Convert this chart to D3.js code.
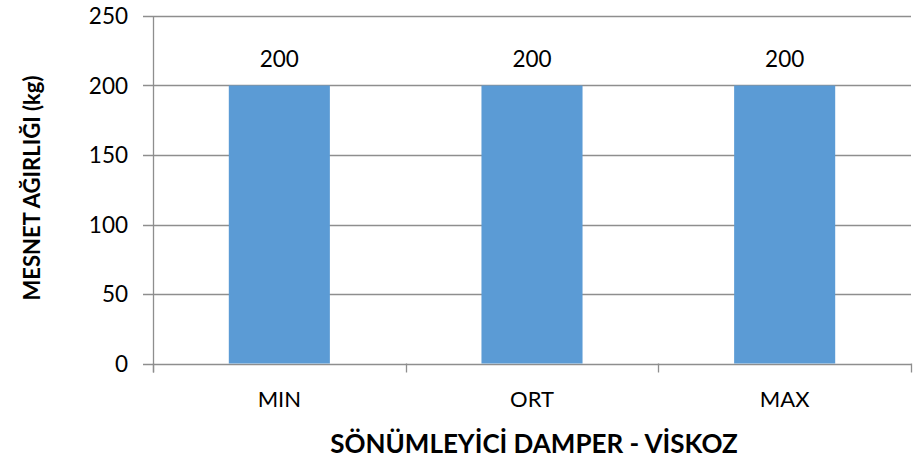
<!DOCTYPE html>
<html>
<head>
<meta charset="utf-8">
<script src="https://cdn.jsdelivr.net/npm/d3@7"></script>
<style>
  body { margin: 0; background: #fff; }
  text { font-family: Lato, "Open Sans", sans-serif; fill: #000; }
</style>
</head>
<body>
<div class="plot"></div>
<script>
// data
const categories = ["MIN", "ORT", "MAX"];
const values = [200, 200, 200];
const yTicks = [0, 50, 100, 150, 200, 250];
const xTitle = "SÖNÜMLEYİCİ DAMPER - VİSKOZ";
const yTitle = "MESNET AĞIRLIĞI (kg)";

const W = 922, H = 463;
const margin = {top: 16, right: 11, bottom: 99.5, left: 153};
const w = W - margin.left - margin.right;
const h = H - margin.top - margin.bottom;

const svg = d3.select(".plot")
    .append("svg")
        .attr("width", W)
        .attr("height", H)
    .append("g")
        .attr("transform", "translate(" + margin.left + ", " + margin.top + ")");

const x = d3.scaleBand().domain(categories).range([0, w]).padding(0);
const y = d3.scaleLinear().domain([0, 250]).range([h, 0]);
const barW = x.bandwidth() * 0.4;
const gridColor = "#8e8e8e";

// gridlines + left ticks
svg.selectAll(".grid")
    .data(yTicks)
    .enter()
    .append("line")
        .attr("x1", -10)
        .attr("x2", w)
        .attr("y1", d => Math.round(y(d)) + 0.5)
        .attr("y2", d => Math.round(y(d)) + 0.5)
        .attr("stroke", gridColor)
        .attr("stroke-width", 1.3);

// y axis line
svg.append("line")
    .attr("x1", 0.5).attr("x2", 0.5)
    .attr("y1", y(250)).attr("y2", h + 9)
    .attr("stroke", gridColor)
    .attr("stroke-width", 1.3);

// bottom ticks at band edges
const edges = categories.map(c => x(c)).concat([w]);
svg.selectAll(".xtick")
    .data(edges)
    .enter()
    .append("line")
        .attr("x1", d => Math.round(d) + 0.5)
        .attr("x2", d => Math.round(d) + 0.5)
        .attr("y1", h)
        .attr("y2", h + 9)
        .attr("stroke", gridColor)
        .attr("stroke-width", 1.3);

// bars
svg.selectAll(".bar")
    .data(values)
    .enter()
    .append("rect")
        .attr("x", (d, i) => x(categories[i]) + (x.bandwidth() - barW) / 2)
        .attr("y", d => y(d))
        .attr("width", barW)
        .attr("height", d => h - y(d))
        .attr("fill", "#5b9bd5");

// value labels
svg.selectAll(".val")
    .data(values)
    .enter()
    .append("text")
        .attr("x", (d, i) => x(categories[i]) + x.bandwidth() / 2)
        .attr("y", d => y(d) - 19)
        .attr("text-anchor", "middle")
        .style("font-size", "22.5px")
        .text(d => d);

// y tick labels
svg.selectAll(".ylab")
    .data(yTicks)
    .enter()
    .append("text")
        .attr("x", -25)
        .attr("y", d => y(d) + 8)
        .attr("text-anchor", "end")
        .style("font-size", "22.5px")
        .text(d => d);

// x tick labels
svg.selectAll(".xlab")
    .data(categories)
    .enter()
    .append("text")
        .attr("x", d => x(d) + x.bandwidth() / 2)
        .attr("y", h + 43)
        .attr("text-anchor", "middle")
        .style("font-size", "22px")
        .text(d => d);

// axis titles
svg.append("text")
    .attr("x", w / 2 + 2)
    .attr("y", h + 89.5)
    .attr("text-anchor", "middle")
    .style("font-size", "26px")
    .style("font-weight", "bold")
    .text(xTitle);

svg.append("text")
    .attr("transform", "translate(" + (40 - margin.left) + ", " + (188 - margin.top) + ") rotate(-90)")
    .attr("text-anchor", "middle")
    .style("font-size", "22px")
    .style("font-weight", "bold")
    .text(yTitle);
</script>
</body>
</html>
